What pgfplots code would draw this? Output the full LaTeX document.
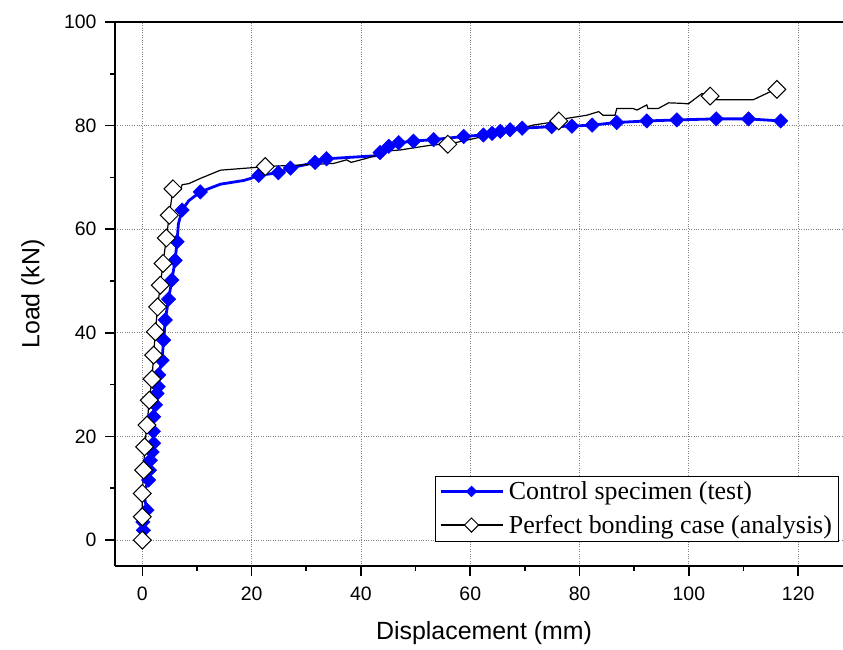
\documentclass[border=0pt]{standalone}
\usepackage{fontspec}
\setmainfont{Liberation Sans}
\newfontfamily\timesfont{Liberation Serif}
\usepackage{pgfplots}
\usepackage{pgfplotstable}
\pgfplotsset{compat=1.18}

\pgfplotstableread{
x y
0 0
0.2 1.9
0.1 3.5
0.85 5.8
0.24 9.0
1.16 11.6
1.3 13.5
1.46 15.4
1.8 17.0
2.07 18.7
2.0 21.0
2.07 23.8
2.38 26.1
2.68 28.3
2.9 29.6
3.0 31.9
3.6 34.7
3.9 38.6
4.2 42.5
4.8 46.5
5.4 50.2
6.0 54.0
6.35 57.6
6.6 61.0
7.26 63.7
8.5 65.5
10.6 67.2
14.3 68.7
18.5 69.4
19.8 69.8
21.3 70.4
24.9 70.9
27.1 71.8
31.6 72.9
33.7 73.6
43.0 74.2
43.5 74.8
45.1 76.0
46.9 76.7
49.6 77.0
53.3 77.3
56.0 77.6
58.8 77.9
62.4 78.2
64.0 78.5
65.5 78.9
67.3 79.2
69.5 79.5
74.9 79.8
78.6 79.9
82.3 80.1
86.8 80.6
92.3 80.9
97.8 81.1
105.0 81.3
110.9 81.3
116.8 80.9
}\ctrlline

\pgfplotstableread{
x y
0 0
0.2 1.9
0.1 3.5
0.85 5.8
0.24 9.0
1.16 11.6
1.3 13.5
1.46 15.4
1.8 17.0
2.07 18.7
2.0 21.0
2.07 23.8
2.38 26.1
2.68 28.3
2.9 29.6
3.0 31.9
3.6 34.7
3.9 38.6
4.2 42.5
4.8 46.5
5.4 50.2
6.0 54.0
6.35 57.6
7.26 63.7
10.6 67.2
21.3 70.4
24.9 70.9
27.1 71.8
31.6 72.9
33.7 73.6
43.5 74.8
45.1 76.0
46.9 76.7
49.6 77.0
53.3 77.3
58.8 77.9
62.4 78.2
64.0 78.5
65.5 78.9
67.3 79.2
69.5 79.5
74.9 79.8
78.6 79.9
82.3 80.1
86.8 80.6
92.3 80.9
97.8 81.1
105.0 81.3
110.9 81.3
116.8 80.9
}\ctrlmarks

\pgfplotstableread{
x y
0 0
0 4.5
0 9.0
0.24 13.5
0.42 18.0
0.85 22.2
1.28 27.0
1.77 31.1
2.07 35.7
2.38 40.2
2.8 45.0
3.29 49.2
3.79 53.4
4.39 58.3
4.94 62.7
5.6 67.8
6.5 68.4
7.0 67.8
7.3 68.6
8.5 68.8
10.6 69.8
14.3 71.4
17.9 71.7
21.0 71.95
22.5 72.1
28.9 72.4
35.0 72.7
37.4 73.4
38.2 72.9
41.1 73.7
42.9 74.3
43.5 75.0
47.2 75.3
50.8 75.9
53.3 76.3
55.9 76.4
59.4 77.2
62.4 77.9
65.5 78.6
68.5 79.2
71.5 80.1
74.6 80.6
76.2 80.9
77.7 81.4
81.3 82.0
83.5 82.7
84.3 82.0
86.5 82.0
86.8 83.3
89.8 83.3
90.5 83.0
92.3 84.0
92.5 83.3
94.4 83.3
96.3 84.4
98.7 84.3
99.9 84.2
102.4 86.2
103.9 85.7
105.1 85.0
111.8 85.0
114.6 86.4
116.1 87.0
}\perfline

\pgfplotstableread{
x y
0 0
0 4.5
0 9.0
0.24 13.5
0.42 18.0
0.85 22.2
1.28 27.0
1.77 31.1
2.07 35.7
2.38 40.2
2.8 45.0
3.29 49.2
3.79 53.4
4.39 58.3
4.94 62.7
5.6 67.8
22.5 72.1
55.9 76.4
76.2 80.9
103.9 85.7
116.1 87.0
}\perfmarks

\begin{document}
\begin{tikzpicture}
\useasboundingbox (-115bp,-84bp) rectangle (728bp,566bp);
\begin{axis}[
  at={(0,0)}, anchor=south west,
  scale only axis, width=728bp, height=544bp,
  xmin=-5, xmax=128.2, ymin=-5, ymax=100,
  axis x line*=bottom, axis y line*=left,
  axis line style={line width=1.6bp},
  xtick={0,20,...,120}, ytick={0,20,...,100},
  minor xtick={10,30,...,110}, minor ytick={10,30,...,90},
  tick align=outside,
  major tick length=10bp, minor tick length=5bp,
  every tick/.style={line width=1.6bp, black},
  grid=major, major grid style={dotted, gray, line width=0.8bp},
  ticklabel style={font=\fontsize{19.5}{20}\selectfont},
  xticklabel style={yshift=-7bp},
  yticklabel style={xshift=-5bp},
  /pgf/number format/assume math mode=true,
  xlabel={Displacement (mm)}, ylabel={Load (kN)},
  label style={font=\fontsize{25}{26}\selectfont},
  xlabel style={at={(axis description cs:0.507,-0.1232)}, anchor=center},
  ylabel style={at={(axis description cs:-0.1126,0.5)}, anchor=center},
  clip=false,
  legend style={at={(axis cs:127.3,-0.2)}, anchor=south east,
    font=\timesfont\fontsize{26}{27}\selectfont, draw=black,
    inner sep=4bp, row sep=10bp, column sep=3bp, cells={anchor=west},
    nodes={inner sep=2bp}},
  legend image code/.code={\draw[mark repeat=2,mark phase=2,#1] plot coordinates {(0bp,0bp) (31bp,0bp) (62bp,0bp)};},
]
\addplot[blue, line width=2.8bp, forget plot] table[x=x,y=y] {\ctrlline};
\addplot[only marks, mark=square*, mark options={rotate=45, fill=blue, draw=blue, line width=0.5bp}, mark size=5.1bp, forget plot] table[x=x,y=y] {\ctrlmarks};
\addplot[black, line width=1.2bp, forget plot] table[x=x,y=y] {\perfline};
\addplot[only marks, mark=square*, mark options={rotate=45, fill=white, draw=black, line width=1bp}, mark size=6.3bp, forget plot] table[x=x,y=y] {\perfmarks};
\addlegendimage{blue, line width=2.8bp, mark=square*, mark options={rotate=45, fill=blue, draw=blue, line width=0.5bp}, mark size=3.8bp}
\addlegendentry{Control specimen (test)}
\addlegendimage{black, line width=1.2bp, mark=square*, mark options={rotate=45, fill=white, draw=black, line width=1bp}, mark size=5bp}
\addlegendentry{Perfect bonding case (analysis)}
\draw[line width=1.6bp] (rel axis cs:0,1) -- (rel axis cs:1,1);
\end{axis}
\end{tikzpicture}
\end{document}
